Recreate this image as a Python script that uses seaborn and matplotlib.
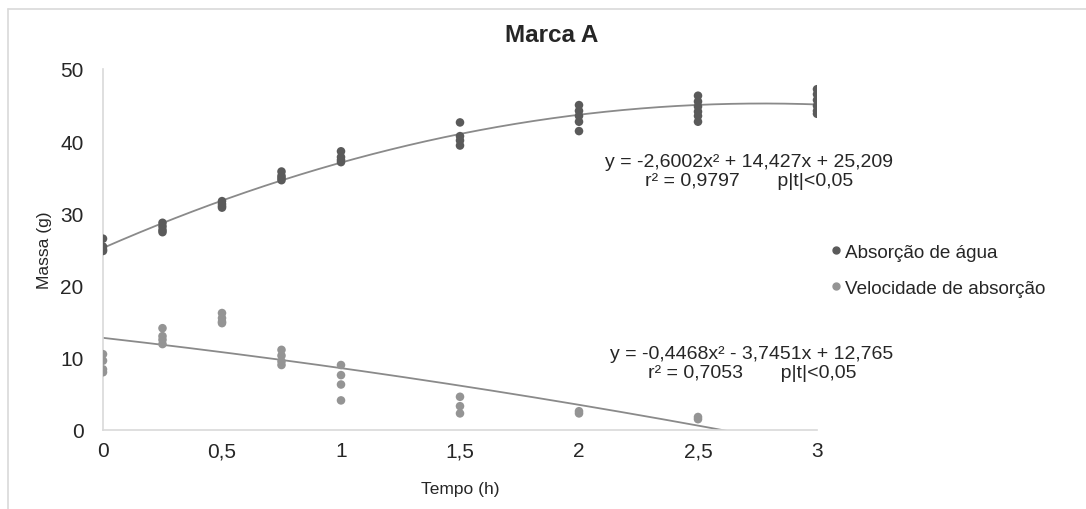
import numpy as np
import pandas as pd
import matplotlib
matplotlib.use('Agg')
import matplotlib.pyplot as plt
import seaborn as sns
from matplotlib.lines import Line2D

# tempo (h) and readings per time point
tempo = [0, 0.25, 0.5, 0.75, 1, 1.5, 2, 2.5, 3]

absorcao = [
    [26.5, 25.4, 25.0, 24.8],
    [28.7, 28.2, 27.7, 27.4],
    [31.7, 31.3, 31.0, 30.8],
    [35.8, 35.2, 34.9, 34.6],
    [38.6, 37.8, 37.4, 37.1],
    [42.6, 40.7, 40.1, 39.4],
    [45.0, 44.2, 43.5, 42.7, 41.4],
    [46.3, 45.5, 44.8, 44.1, 43.5, 42.7],
    [47.2, 46.5, 45.7, 44.9, 44.2, 43.8],
]

velocidade = [
    [10.5, 9.6, 8.4, 8.0],
    [14.1, 13.0, 12.5, 11.9],
    [16.2, 15.5, 15.0, 14.8],
    [11.1, 10.3, 9.5, 9.0],
    [9.0, 7.6, 6.3, 4.1],
    [4.6, 3.3, 2.3],
    [2.6, 2.3],
    [1.8, 1.5],
    [],
]

# trendline coefficients (a, b, c) from the chart
coef_abs = [-2.6002, 14.427, 25.209]
coef_vel = [-0.4468, -3.7451, 12.765]

series_names = ['Absorção de água', 'Velocidade de absorção']
colors = ['#5a5a5a', '#949494']

rows = []
for t, vals in zip(tempo, absorcao):
    for v in vals:
        rows.append((t, v, series_names[0]))
for t, vals in zip(tempo, velocidade):
    for v in vals:
        rows.append((t, v, series_names[1]))
df = pd.DataFrame(rows, columns=['Tempo', 'Massa', 'Serie'])

sns.set_style('white')
plt.rcParams['font.family'] = ['Liberation Sans', 'DejaVu Sans']

fig = plt.figure(figsize=(10.86, 5.10), dpi=100)
ax = fig.add_axes([103 / 1086, 79 / 510, (817 - 103) / 1086, (431 - 70) / 510])

# trendlines
xs = np.linspace(0, 3, 200)
for coef in [coef_abs, coef_vel]:
    ys = coef[0] * xs ** 2 + coef[1] * xs + coef[2]
    sns.lineplot(x=xs, y=ys, ax=ax, color='#8a8a8a', linewidth=1.3, zorder=2)

sns.scatterplot(data=df, x='Tempo', y='Massa', hue='Serie', palette=colors,
                s=38, edgecolor='none', ax=ax, legend=False, zorder=3)

ax.set_xlim(0, 3)
ax.set_ylim(0, 50)
ax.set_xticks([0, 0.5, 1, 1.5, 2, 2.5, 3])
ax.set_xticklabels(['0', '0,5', '1', '1,5', '2', '2,5', '3'])
ax.set_yticks([0, 10, 20, 30, 40, 50])
ax.tick_params(axis='y', length=0, pad=14, labelsize=15)
ax.tick_params(axis='x', length=0, pad=8, labelsize=15)
for s in ['top', 'right']:
    ax.spines[s].set_visible(False)
for s in ['left', 'bottom']:
    ax.spines[s].set_color('#d9d9d9')
    ax.spines[s].set_linewidth(1.2)

ax.set_xlabel('Tempo (h)', fontsize=12.5, labelpad=15)
ax.set_ylabel('Massa (g)', fontsize=12.5, labelpad=6)

fig.text(552 / 1086, 1 - 35 / 510, 'Marca A', ha='center', va='center',
         fontsize=17.5, fontweight='bold')

fig.text(749 / 1086, 1 - 172 / 510,
         'y = -2,6002x² + 14,427x + 25,209\nr² = 0,9797       p|t|<0,05',
         ha='center', va='center', fontsize=14, multialignment='center',
         linespacing=1.2)
fig.text(752 / 1086, 1 - 364 / 510,
         'y = -0,4468x² - 3,7451x + 12,765\nr² = 0,7053       p|t|<0,05',
         ha='center', va='center', fontsize=14, multialignment='center',
         linespacing=1.2)

handles = [Line2D([], [], marker='o', linestyle='none', color=c, markersize=5)
           for c in colors]
fig.legend(handles, series_names, loc='center left',
           bbox_to_anchor=(817 / 1086, 1 - 271 / 510), frameon=False,
           fontsize=13.6, handletextpad=0.0, labelspacing=1.0, borderpad=0,
           handlelength=1.0)

# outer chart border (top and left visible in the reference)
fig.add_artist(Line2D([8 / 1086, 1], [1 - 10 / 510, 1 - 10 / 510],
                      color='#d9d9d9', linewidth=1.2, transform=fig.transFigure))
fig.add_artist(Line2D([8 / 1086, 8 / 1086], [0, 1 - 10 / 510],
                      color='#d9d9d9', linewidth=1.2, transform=fig.transFigure))

fig.savefig('out.png', dpi=100, facecolor='white')
